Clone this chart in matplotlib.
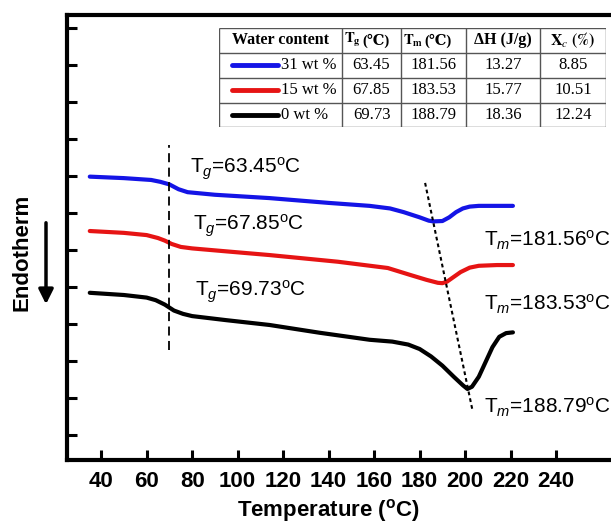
import matplotlib.pyplot as plt
from matplotlib.patches import FancyArrowPatch, Rectangle

plt.rcParams['font.family'] = ['Liberation Sans', 'DejaVu Sans']
plt.rcParams['mathtext.fontset'] = 'custom'
plt.rcParams['mathtext.rm'] = 'Liberation Sans'
plt.rcParams['mathtext.it'] = 'Liberation Sans:italic'
plt.rcParams['mathtext.bf'] = 'Liberation Sans:bold'

# DSC traces (heat flow in arbitrary units)
t_31 = [35, 50, 62, 66, 70, 74, 78, 90, 114, 140, 158, 167, 173, 180, 184, 186, 190, 193, 196, 199, 202, 206, 214, 221]
hf_31 = [7.66, 7.62, 7.57, 7.52, 7.45, 7.32, 7.24, 7.17, 7.08, 6.95, 6.87, 6.80, 6.70, 6.56, 6.47, 6.45, 6.46, 6.56, 6.70, 6.80, 6.85, 6.87, 6.87, 6.87]

t_15 = [35, 50, 60, 65, 68, 71, 75, 80, 95, 114, 144, 166, 176, 183, 188, 190, 192, 195, 198, 202, 206, 214, 221]
hf_15 = [6.19, 6.14, 6.08, 6.00, 5.93, 5.84, 5.76, 5.72, 5.64, 5.54, 5.36, 5.19, 5.00, 4.87, 4.79, 4.78, 4.82, 4.95, 5.08, 5.20, 5.25, 5.27, 5.27]

t_0 = [35, 50, 60, 64, 68, 72, 76, 80, 95, 114, 136, 158, 168, 175, 180, 185, 190, 195, 199, 201, 203, 206, 209, 212, 215, 218, 221]
hf_0 = [4.52, 4.46, 4.39, 4.32, 4.20, 4.04, 3.95, 3.89, 3.78, 3.65, 3.44, 3.25, 3.20, 3.12, 3.00, 2.80, 2.55, 2.25, 2.02, 1.92, 1.98, 2.25, 2.65, 3.05, 3.33, 3.43, 3.45]

samples = ["31 wt %", "15 wt %", "0 wt %"]
colors = ["#1414e6", "#e61414", "black"]
tg = [63.45, 67.85, 69.73]
tm = [181.56, 183.53, 188.79]
dh = [13.27, 15.77, 18.36]
xc = [8.85, 10.51, 12.24]

tg_pos = [(79.1, 7.76), (80.4, 6.22), (81.3, 4.41)]
tm_pos = [(208.4, 5.78), (208.4, 4.05), (208.4, 1.27)]

tg_line_x = [69.9, 69.9]
tg_line_y = [2.97, 8.51]
tm_line_x = [182.4, 203.1]
tm_line_y = [7.49, 1.38]

fig = plt.figure(figsize=(6.11, 5.26), dpi=100)
ax = fig.add_axes([0.1097, 0.1255, 0.8936, 0.846])

for t, hf, c in zip([t_31, t_15, t_0], [hf_31, hf_15, hf_0], colors):
    ax.plot(t, hf, color=c, lw=3, solid_capstyle='round', solid_joinstyle='round')

ax.plot(tg_line_x, tg_line_y, color='black', lw=1.3, linestyle=(0, (5, 3)))
ax.plot(tm_line_x, tm_line_y, color='black', lw=1.5, linestyle=(0, (1.8, 1.5)))

for (x, y), v in zip(tg_pos, tg):
    ax.text(x, y, "T$_g$=%.2f$^{\\mathrm{o}}$C" % v, fontsize=15)
for (x, y), v in zip(tm_pos, tm):
    ax.text(x, y, "T$_m$=%.2f$^{\\mathrm{o}}$C" % v, fontsize=15)

ax.set_xlim(25, 265)
ax.set_ylim(0, 12.03)
ax.set_xticks(range(40, 241, 20))
ax.set_yticks([0.68 + k for k in range(12)])
ax.tick_params(direction='in', length=7, width=2.2, labelsize=16, pad=8, labelleft=False)
for lbl in ax.get_xticklabels():
    lbl.set_fontweight('bold')
for s in ['left', 'top', 'bottom']:
    ax.spines[s].set_linewidth(3)
ax.spines['right'].set_visible(False)

fig.text(329 / 611, 1 - 511 / 526, "Temperature ($^{\\mathbf{o}}$C)", fontsize=16, fontweight='bold',
         ha='center', va='center')

fig.text(22 / 611, 1 - 252 / 526, "Endotherm", rotation=90, fontsize=16, fontweight='bold',
         ha='center', va='center')
fig.add_artist(FancyArrowPatch((46 / 611, 1 - 220 / 526), (46 / 611, 1 - 307 / 526),
                               transform=fig.transFigure, arrowstyle='-|>',
                               mutation_scale=22, lw=2.5, color='black'))

# table with legend
tab = ax.inset_axes([0.2784, 0.7483, 0.7088, 0.2225])
tab.set_xlim(0, 387)
tab.set_ylim(99, 0)
tab.axis('off')
tab.add_patch(Rectangle((0, 0), 387, 99, facecolor='white', edgecolor='none'))
col_edges = [0, 123, 182, 247, 321, 387]
row_edges = [0, 25, 50, 75, 99]
tab.hlines(row_edges, 0, 387, color='#555555', lw=1)
tab.vlines(col_edges, 0, 99, color='#555555', lw=1)

serif = ['Liberation Serif', 'DejaVu Serif']
hdr = dict(va='center', fontsize=11.5, fontweight='bold', family=serif, math_fontfamily='stix')
hdr_small = dict(hdr, fontsize=10.5)
tab.text(61.5, 12.5, "Water content", ha='center', **hdr)
tab.text(142, 12.5, "$\\mathbf{T_g}$", ha='right', **hdr_small)
tab.text(143, 12.5, "(℃)", ha='left', **hdr_small)
tab.text(204, 12.5, "$\\mathbf{T_m}$", ha='right', **hdr_small)
tab.text(205, 12.5, "(℃)", ha='left', **hdr_small)
tab.text(284, 12.5, "ΔH (J/g)", ha='center', **hdr)
tab.text(354, 12.5, "$\\mathbf{X_{\\mathit{c}}}$ $\\mathbf{(\\%)}$", ha='center', **hdr)

for r, name in enumerate(samples):
    yc = (row_edges[r + 1] + row_edges[r + 2]) / 2
    tab.plot([13, 59], [yc, yc], color=colors[r], lw=3.5, solid_capstyle='round')
    tab.text(62, yc, name, ha='left', va='center', fontsize=12, family=serif)
    for i, v in enumerate([tg[r], tm[r], dh[r], xc[r]]):
        xc_ = (col_edges[i + 1] + col_edges[i + 2]) / 2
        tab.text(xc_, yc, "%.2f" % v, ha='center', va='center', fontsize=12, family=serif)

fig.savefig("out.png", dpi=100)
